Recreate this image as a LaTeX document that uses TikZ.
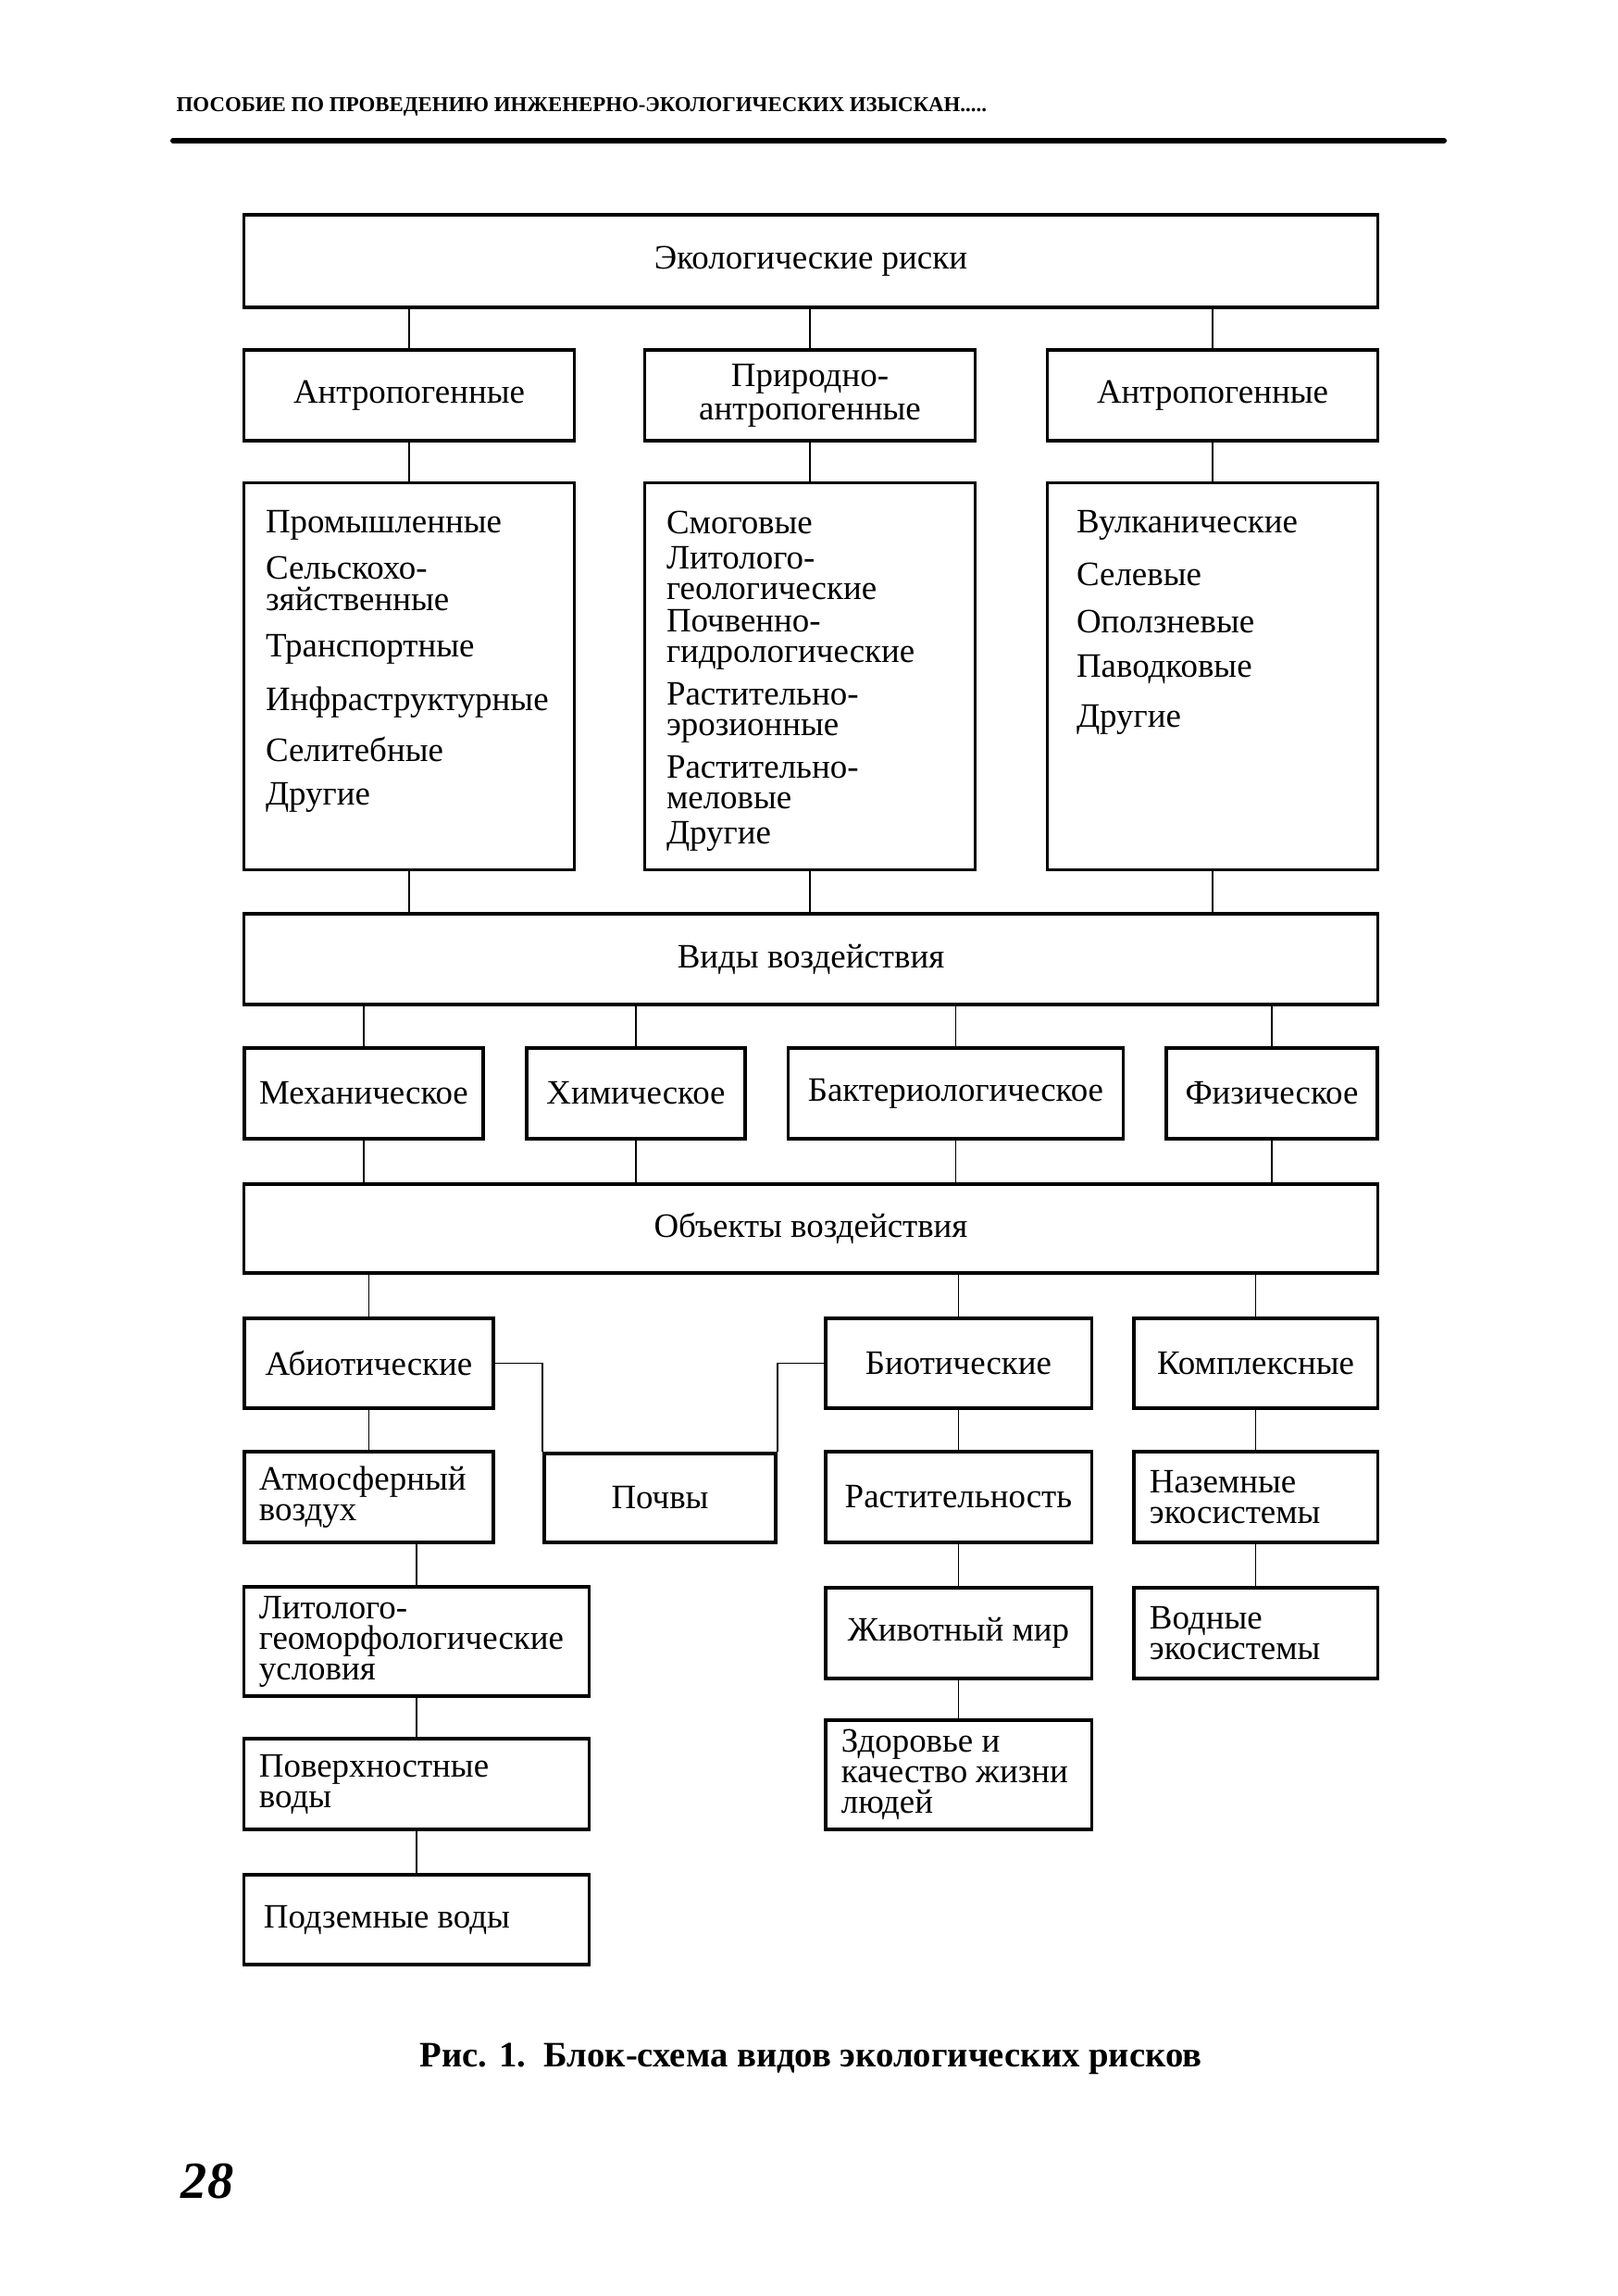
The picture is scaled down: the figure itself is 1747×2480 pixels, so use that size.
\documentclass[tikz,border=0pt]{standalone}
\usepackage{fontspec}
\setmainfont{Liberation Serif}
\usetikzlibrary{positioning}

\begin{document}
\begin{tikzpicture}[x=0.01cm, y=-0.01cm,
        box/.style={draw, rectangle, line width=0.9pt, inner sep=0pt, align=center, font=\fontsize{10.5}{9.4}\selectfont},
        lbox/.style={box, align=flush left, inner xsep=0.16cm, text width=#1},
        lst/.style={inner sep=0pt, align=flush left, font=\fontsize{10.5}{9.4}\selectfont},
        link/.style={line width=0.5pt}]

        \useasboundingbox (0, 0) rectangle (1747, 2480);

        % Колонтитул
        \node[anchor=west, inner sep=0pt, font=\bfseries\fontsize{6.5}{7}\selectfont] (header) at (190, 115) {ПОСОБИЕ ПО ПРОВЕДЕНИЮ ИНЖЕНЕРНО-ЭКОЛОГИЧЕСКИХ ИЗЫСКАН.....};
        \coordinate (ruleL) at (187, 152);
        \coordinate (ruleR) at (1560, 152);
        \draw[line width=1.7pt, line cap=round] (ruleL) -- (ruleR);

        % Экологические риски
        \node[box, minimum width=12.24cm, minimum height=1cm] (risk) at (876, 282) {Экологические риски};

        % Группы рисков
        \node[box, minimum width=3.56cm, minimum height=0.98cm] (ant1) at (442, 427) {Антропогенные};
        \node[box, minimum width=3.56cm, minimum height=0.98cm] (prant) at (875, 427) {Природно-\\[0.9pt]антропогенные};
        \node[box, minimum width=3.56cm, minimum height=0.98cm] (ant2) at (1310, 427) {Антропогенные};
        \draw[link] (ant1.north) -- (ant1.north |- risk.south);
        \draw[link] (prant.north) -- (prant.north |- risk.south);
        \draw[link] (ant2.north) -- (ant2.north |- risk.south);

        % Перечни рисков
        \node[box, minimum width=3.56cm, minimum height=4.17cm] (ant1b) at (442, 730.5) {};
        \node[box, minimum width=3.56cm, minimum height=4.17cm] (prantb) at (875, 730.5) {};
        \node[box, minimum width=3.56cm, minimum height=4.17cm] (ant2b) at (1310, 730.5) {};
        \node[lst, below right=0.3cm and 0.24cm of ant1b.north west] (ant1l) {Промышленные\\[4.8pt]Сельскохо-\\[0.3pt]зяйственные\\[4.8pt]Транспортные\\[6.1pt]Инфраструктурные\\[4.8pt]Селитебные\\[3.9pt]Другие};
        \node[lst, below right=0.31cm and 0.24cm of prantb.north west] (prantl) {Смоговые\\[1.4pt]Литолого-\\геологические\\[0.5pt]Почвенно-\\гидрологические\\[3.7pt]Растительно-\\эрозионные\\[3.7pt]Растительно-\\меловые\\[1.5pt]Другие};
        \node[lst, below right=0.3cm and 0.32cm of ant2b.north west] (ant2l) {Вулканические\\[6.8pt]Селевые\\[5.2pt]Оползневые\\[4.3pt]Паводковые\\[5.9pt]Другие};
        \draw[link] (ant1b.north) -- (ant1.south);
        \draw[link] (prantb.north) -- (prant.south);
        \draw[link] (ant2b.north) -- (ant2.south);

        % Виды воздействия
        \node[box, minimum width=12.24cm, minimum height=0.98cm] (vid) at (876, 1036) {Виды воздействия};
        \draw[link] (ant1b.south) -- (ant1b.south |- vid.north);
        \draw[link] (prantb.south) -- (prantb.south |- vid.north);
        \draw[link] (ant2b.south) -- (ant2b.south |- vid.north);

        \node[box, minimum width=2.58cm, minimum height=0.98cm] (mech) at (393, 1181) {Механическое};
        \node[box, minimum width=2.36cm, minimum height=0.98cm] (chem) at (687, 1181) {Химическое};
        \node[box, minimum width=3.61cm, minimum height=0.98cm] (bact) at (1032.5, 1181) {Бактериологическое};
        \node[box, minimum width=2.28cm, minimum height=0.98cm] (phys) at (1374, 1181) {Физическое};

        % Объекты воздействия
        \node[box, minimum width=12.24cm, minimum height=0.96cm] (obj) at (876, 1327) {Объекты воздействия};
        \draw[link] (mech.north) -- (mech.north |- vid.south);
        \draw[link] (chem.north) -- (chem.north |- vid.south);
        \draw[link] (bact.north) -- (bact.north |- vid.south);
        \draw[link] (phys.north) -- (phys.north |- vid.south);
        \draw[link] (mech.south) -- (mech.south |- obj.north);
        \draw[link] (chem.south) -- (chem.south |- obj.north);
        \draw[link] (bact.south) -- (bact.south |- obj.north);
        \draw[link] (phys.south) -- (phys.south |- obj.north);

        % Абиотические
        \node[box, minimum width=2.69cm, minimum height=0.97cm] (abio) at (398.5, 1472.5) {Абиотические};
        \node[lbox=2.37cm, minimum height=0.98cm] (atm) at (398.5, 1617) {Атмосферный\\воздух};
        \node[box, minimum width=2.5cm, minimum height=0.96cm] (pochvy) at (713, 1618) {Почвы};
        \node[lbox=3.4cm, minimum height=1.18cm] (lit) at (450, 1773) {Литолого-\\геоморфологические\\условия};
        \node[lbox=3.4cm, minimum height=0.98cm] (pov) at (450, 1927) {Поверхностные\\воды};
        \node[lbox=3.3cm, inner xsep=0.21cm, minimum height=0.97cm] (podz) at (450, 2073.5) {Подземные воды};
        \draw[link] (abio.north) -- (abio.north |- obj.south);
        \draw[link] (abio.south) -- (atm.north);
        \draw[link] (abio.east) -| (pochvy.north west);
        \draw[link] (lit.north) -- (lit.north |- atm.south);
        \draw[link] (lit.south) -- (pov.north);
        \draw[link] (pov.south) -- (podz.north);

        % Биотические
        \node[box, minimum width=2.87cm, minimum height=0.97cm] (bio) at (1035.5, 1472.5) {Биотические};
        \node[box, minimum width=2.87cm, minimum height=0.98cm] (rast) at (1035.5, 1617) {Растительность};
        \node[box, minimum width=2.87cm, minimum height=0.98cm] (zhiv) at (1035.5, 1764) {Животный мир};
        \node[lbox=2.53cm, inner xsep=0.17cm, minimum height=1.18cm] (zdor) at (1035.5, 1917) {Здоровье и\\качество жизни\\людей};
        \draw[link] (bio.north) -- (bio.north |- obj.south);
        \draw[link] (bio.west) -| (pochvy.north east);
        \draw[link] (bio.south) -- (rast.north);
        \draw[link] (rast.south) -- (zhiv.north);
        \draw[link] (zhiv.south) -- (zdor.north);

        % Комплексные
        \node[box, minimum width=2.63cm, minimum height=0.97cm] (kompl) at (1356.5, 1472.5) {Комплексные};
        \node[lbox=2.29cm, inner xsep=0.17cm, minimum height=0.98cm] (naz) at (1356.5, 1617) {Наземные\\экосистемы};
        \node[lbox=2.29cm, inner xsep=0.17cm, minimum height=0.98cm] (vod) at (1356.5, 1764) {Водные\\экосистемы};
        \draw[link] (kompl.north) -- (kompl.north |- obj.south);
        \draw[link] (kompl.south) -- (naz.north);
        \draw[link] (naz.south) -- (vod.north);

        % Подпись
        \node[inner sep=0pt, font=\bfseries\fontsize{11}{13}\selectfont] (caption) at (876, 2224) {Рис. 1.\ \ Блок-схема видов экологических рисков};
        \node[inner sep=0pt, font=\bfseries\itshape\fontsize{16}{18}\selectfont] (page) at (224, 2356) {28};

    \end{tikzpicture}
\end{document}
